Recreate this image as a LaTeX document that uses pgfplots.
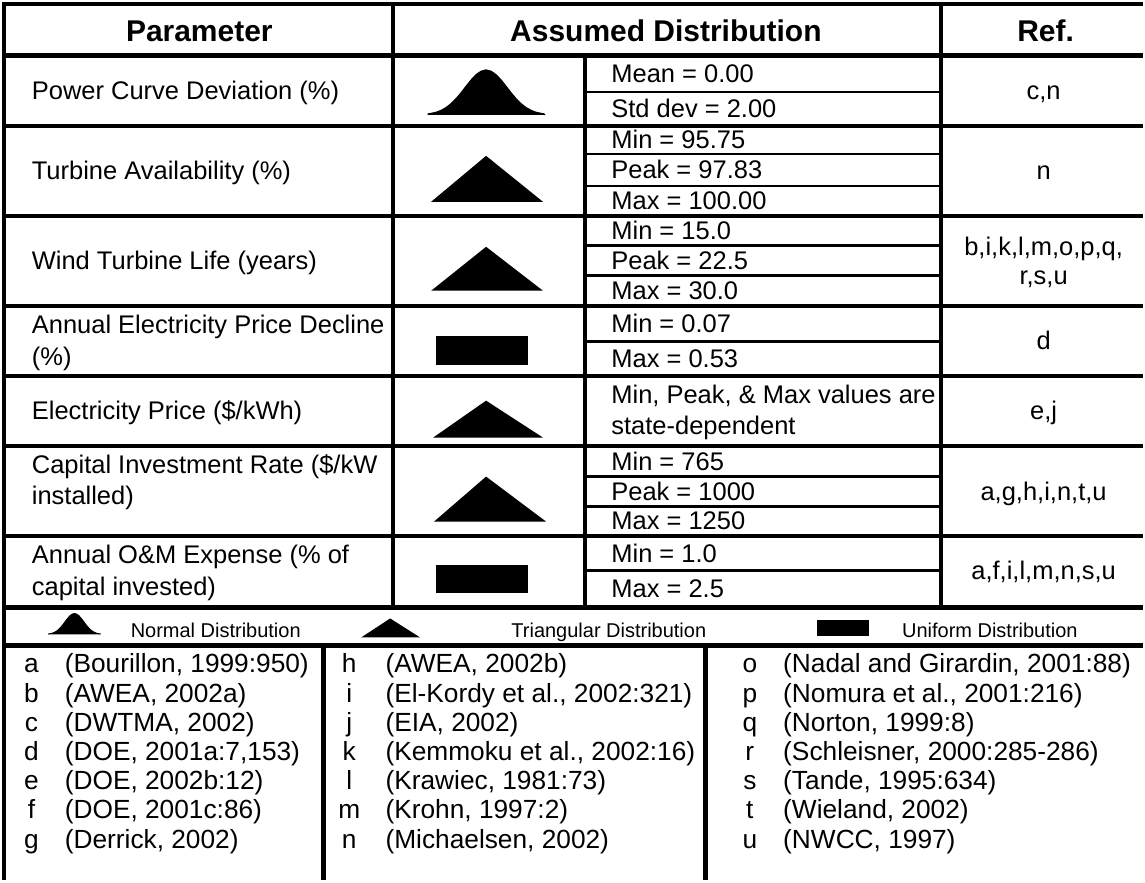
\documentclass[border=0pt]{standalone}
\usepackage{pgfplots}
\pgfplotsset{compat=1.18}
\usepackage{fontspec}
\setmainfont{Liberation Sans}
\begin{document}
\begin{tikzpicture}[
  bodyt/.style={font=\fontsize{12.75}{14}\selectfont, anchor=base west, inner sep=0pt},
  refc/.style={font=\fontsize{12.75}{14}\selectfont, anchor=base, inner sep=0pt},
  reft/.style={font=\fontsize{13.15}{15}\selectfont, anchor=base west, inner sep=0pt},
  refl/.style={font=\fontsize{13.15}{15}\selectfont, anchor=base, inner sep=0pt},
  head/.style={font=\bfseries\fontsize{15}{17}\selectfont, anchor=base, inner sep=0pt},
  leg/.style={font=\fontsize{10}{12}\selectfont, anchor=base west, inner sep=0pt},
  thk/.style={line width=2.5pt},
  med/.style={line width=2pt},
  sub/.style={line width=1.3pt}]
\begin{axis}[width=572.5pt, height=441pt, scale only axis,
  xmin=0, xmax=1145, ymin=0, ymax=882, y dir=reverse,
  hide axis, clip=false]
% ---- distribution glyphs (shapes) ----
\addplot[fill=black, draw=black, line width=0.6pt] coordinates {
 (430,116) (430,115) (433,114.5) (438,113.4) (443,111.5) (448,108.7) (453,104.8) (458,99.8) (463,93.9) (468,87.4) (473,81.1) (478,75.8) (483,72.3) (488,71)
 (493,72.3) (498,75.8) (503,81.1) (508,87.4) (513,93.9) (518,99.8) (523,104.8) (528,108.7) (533,111.5) (538,113.4) (543,114.5) (546,115) (547,116) };
\addplot[fill=black, draw=none] coordinates {(433,203) (488,157) (545,203)};
\addplot[fill=black, draw=none] coordinates {(433,292) (488,248) (545,292)};
\addplot[fill=black, draw=none] coordinates {(435,439) (488,402) (545,439)};
\addplot[fill=black, draw=none] coordinates {(436,523) (488,478) (548,523)};
\addplot[fill=black, draw=none] coordinates {(438,337) (530,337) (530,366) (438,366)};
\addplot[fill=black, draw=none] coordinates {(438,566) (530,566) (530,595) (438,595)};
\addplot[fill=black, draw=black, line width=0.4pt] coordinates {
 (50,636) (50,635.5) (53.6,634.8) (55.8,633.9) (58.1,632.6) (60.3,630.8) (62.6,628.4) (64.8,625.7) (67,622.6) (69.3,619.7) (71.5,617.2) (73.8,615.6) (76,615)
 (78.2,615.6) (80.5,617.2) (82.7,619.7) (85,622.6) (87.2,625.7) (89.4,628.4) (91.7,630.8) (93.9,632.6) (96.2,633.9) (98.4,634.8) (102,635.5) (102,636) };
\addplot[fill=black, draw=none] coordinates {(363,639) (392,620) (422,639)};
\addplot[fill=black, draw=none] coordinates {(819,622) (871,622) (871,638) (819,638)};
% ---- table rules ----
\draw[med] (axis cs:4,5) -- (axis cs:1145,5);
\draw[thk] (axis cs:4,57) -- (axis cs:1145,57);
\draw[med] (axis cs:6,127) -- (axis cs:1145,127);
\draw[med] (axis cs:6,217) -- (axis cs:1145,217);
\draw[med] (axis cs:6,307) -- (axis cs:1145,307);
\draw[med] (axis cs:6,377) -- (axis cs:1145,377);
\draw[med] (axis cs:6,447) -- (axis cs:1145,447);
\draw[med] (axis cs:6,537) -- (axis cs:1145,537);
\draw[sub] (axis cs:587,93) -- (axis cs:943,93);
\draw[sub] (axis cs:587,155) -- (axis cs:943,155);
\draw[sub] (axis cs:587,187) -- (axis cs:943,187);
\draw[sub] (axis cs:587,247) -- (axis cs:943,247);
\draw[sub] (axis cs:587,277) -- (axis cs:943,277);
\draw[sub] (axis cs:587,343) -- (axis cs:943,343);
\draw[sub] (axis cs:587,478) -- (axis cs:943,478);
\draw[sub] (axis cs:587,508) -- (axis cs:943,508);
\draw[sub] (axis cs:587,572) -- (axis cs:943,572);
\draw[thk] (axis cs:4,609) -- (axis cs:1145,609);
\draw[thk] (axis cs:4,647) -- (axis cs:1145,647);
\draw[med] (axis cs:6,3) -- (axis cs:6,882);
\draw[med] (axis cs:395,3) -- (axis cs:395,609);
\draw[med] (axis cs:587,57) -- (axis cs:587,609);
\draw[med] (axis cs:943,3) -- (axis cs:943,609);
\draw[thk] (axis cs:325,647) -- (axis cs:325,882);
\draw[thk] (axis cs:708,647) -- (axis cs:708,882);
% ---- header ----
\node[head] at (axis cs:201,43) {Parameter};
\node[head] at (axis cs:668,43) {Assumed Distribution};
\node[head] at (axis cs:1048,43) {Ref.};
% ---- parameter column ----
\node[bodyt] at (axis cs:33,101) {Power Curve Deviation (\%)};
\node[bodyt] at (axis cs:33,181) {Turbine Availability (\%)};
\node[bodyt] at (axis cs:33,271) {Wind Turbine Life (years)};
\node[bodyt] at (axis cs:33,335) {Annual Electricity Price Decline};
\node[bodyt] at (axis cs:33,367) {(\%)};
\node[bodyt] at (axis cs:33,421) {Electricity Price (\$/kWh)};
\node[bodyt] at (axis cs:33,475) {Capital Investment Rate (\$/kW};
\node[bodyt] at (axis cs:33,506) {installed)};
\node[bodyt] at (axis cs:33,565) {Annual O\&M Expense (\% of};
\node[bodyt] at (axis cs:33,597) {capital invested)};
% ---- values column ----
\node[bodyt] at (axis cs:613,84) {Mean = 0.00};
\node[bodyt] at (axis cs:613,119) {Std dev = 2.00};
\node[bodyt] at (axis cs:613,150) {Min = 95.75};
\node[bodyt] at (axis cs:613,180) {Peak = 97.83};
\node[bodyt] at (axis cs:613,211) {Max = 100.00};
\node[bodyt] at (axis cs:613,241) {Min = 15.0};
\node[bodyt] at (axis cs:613,271) {Peak = 22.5};
\node[bodyt] at (axis cs:613,301) {Max = 30.0};
\node[bodyt] at (axis cs:613,334) {Min = 0.07};
\node[bodyt] at (axis cs:613,369) {Max = 0.53};
\node[bodyt] at (axis cs:613,405) {Min, Peak, \& Max values are};
\node[bodyt] at (axis cs:613,436) {state-dependent};
\node[bodyt] at (axis cs:613,472) {Min = 765};
\node[bodyt] at (axis cs:613,502) {Peak = 1000};
\node[bodyt] at (axis cs:613,531) {Max = 1250};
\node[bodyt] at (axis cs:613,564) {Min = 1.0};
\node[bodyt] at (axis cs:613,599) {Max = 2.5};
% ---- ref column ----
\node[refc] at (axis cs:1046,101) {c,n};
\node[refc] at (axis cs:1046,181) {n};
\node[refc] at (axis cs:1046,257) {b,i,k,l,m,o,p,q,};
\node[refc] at (axis cs:1046,286) {r,s,u};
\node[refc] at (axis cs:1046,351) {d};
\node[refc] at (axis cs:1046,421) {e,j};
\node[refc] at (axis cs:1046,502) {a,g,h,i,n,t,u};
\node[refc] at (axis cs:1046,581) {a,f,i,l,m,n,s,u};
% ---- legend row ----
\node[leg] at (axis cs:132,639) {Normal Distribution};
\node[leg] at (axis cs:513,639) {Triangular Distribution};
\node[leg] at (axis cs:904,639) {Uniform Distribution};
% ---- references, column 1 ----
\node[refl] at (axis cs:33,674) {a};  \node[reft] at (axis cs:66,674) {(Bourillon, 1999:950)};
\node[refl] at (axis cs:33,704) {b};  \node[reft] at (axis cs:66,704) {(AWEA, 2002a)};
\node[refl] at (axis cs:33,733) {c};  \node[reft] at (axis cs:66,733) {(DWTMA, 2002)};
\node[refl] at (axis cs:33,762) {d};  \node[reft] at (axis cs:66,762) {(DOE, 2001a:7,153)};
\node[refl] at (axis cs:33,791) {e};  \node[reft] at (axis cs:66,791) {(DOE, 2002b:12)};
\node[refl] at (axis cs:33,820) {f};  \node[reft] at (axis cs:66,820) {(DOE, 2001c:86)};
\node[refl] at (axis cs:33,850) {g};  \node[reft] at (axis cs:66,850) {(Derrick, 2002)};
% ---- references, column 2 ----
\node[refl] at (axis cs:351,674) {h};  \node[reft] at (axis cs:387,674) {(AWEA, 2002b)};
\node[refl] at (axis cs:351,704) {i};  \node[reft] at (axis cs:387,704) {(El-Kordy et al., 2002:321)};
\node[refl] at (axis cs:351,733) {j};  \node[reft] at (axis cs:387,733) {(EIA, 2002)};
\node[refl] at (axis cs:351,762) {k};  \node[reft] at (axis cs:387,762) {(Kemmoku et al., 2002:16)};
\node[refl] at (axis cs:351,791) {l};  \node[reft] at (axis cs:387,791) {(Krawiec, 1981:73)};
\node[refl] at (axis cs:351,820) {m};  \node[reft] at (axis cs:387,820) {(Krohn, 1997:2)};
\node[refl] at (axis cs:351,850) {n};  \node[reft] at (axis cs:387,850) {(Michaelsen, 2002)};
% ---- references, column 3 ----
\node[refl] at (axis cs:752,674) {o};  \node[reft] at (axis cs:785,674) {(Nadal and Girardin, 2001:88)};
\node[refl] at (axis cs:752,704) {p};  \node[reft] at (axis cs:785,704) {(Nomura et al., 2001:216)};
\node[refl] at (axis cs:752,733) {q};  \node[reft] at (axis cs:785,733) {(Norton, 1999:8)};
\node[refl] at (axis cs:752,762) {r};  \node[reft] at (axis cs:785,762) {(Schleisner, 2000:285-286)};
\node[refl] at (axis cs:752,791) {s};  \node[reft] at (axis cs:785,791) {(Tande, 1995:634)};
\node[refl] at (axis cs:752,820) {t};  \node[reft] at (axis cs:785,820) {(Wieland, 2002)};
\node[refl] at (axis cs:752,850) {u};  \node[reft] at (axis cs:785,850) {(NWCC, 1997)};
\end{axis}
\end{tikzpicture}
\end{document}
